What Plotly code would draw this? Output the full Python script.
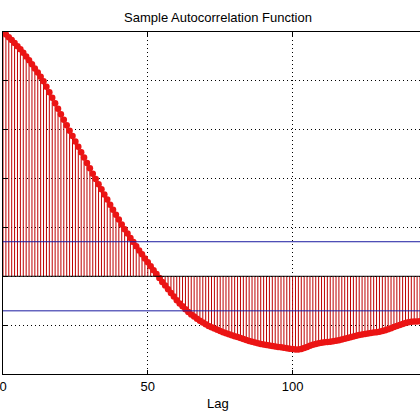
import plotly.graph_objects as go

# sample autocorrelation, lags 0..144
lags = list(range(145))
acf = [
    1.000, 0.990, 0.979, 0.967, 0.955, 0.942, 0.929, 0.915, 0.900, 0.884,
    0.868, 0.851, 0.834, 0.817, 0.798, 0.776, 0.753, 0.731, 0.708, 0.686,
    0.663, 0.641, 0.618, 0.596, 0.574, 0.552, 0.530, 0.508, 0.486, 0.464,
    0.442, 0.420, 0.398, 0.377, 0.356, 0.335, 0.314, 0.293, 0.272, 0.252,
    0.232, 0.212, 0.193, 0.175, 0.157, 0.140, 0.123, 0.106, 0.090, 0.073,
    0.057, 0.041, 0.025, 0.009, -0.007, -0.023, -0.038, -0.053, -0.068, -0.083,
    -0.098, -0.111, -0.123, -0.135, -0.146, -0.156, -0.165, -0.174, -0.182, -0.189,
    -0.196, -0.203, -0.209, -0.214, -0.219, -0.224, -0.229, -0.233, -0.237, -0.241,
    -0.245, -0.249, -0.253, -0.257, -0.261, -0.265, -0.268, -0.271, -0.274, -0.277,
    -0.279, -0.281, -0.283, -0.285, -0.287, -0.289, -0.291, -0.293, -0.295, -0.297,
    -0.298, -0.300, -0.300, -0.298, -0.294, -0.289, -0.284, -0.280, -0.277, -0.274,
    -0.272, -0.270, -0.269, -0.268, -0.266, -0.264, -0.262, -0.259, -0.256, -0.253,
    -0.250, -0.246, -0.243, -0.240, -0.238, -0.236, -0.234, -0.232, -0.230, -0.229,
    -0.227, -0.224, -0.221, -0.217, -0.213, -0.208, -0.203, -0.199, -0.195, -0.191,
    -0.188, -0.186, -0.185, -0.185, -0.184,
]
bound = 0.1414  # approx 95% confidence bound
x_ticks = [0, 50, 100]
y_ticks = [-0.4, -0.2, 0, 0.2, 0.4, 0.6, 0.8, 1.0]

# stems: one trace, segments split by None
stem_x, stem_y = [], []
for lag, val in zip(lags, acf):
    stem_x += [lag, lag, None]
    stem_y += [0, val, None]

fig = go.Figure()
fig.add_trace(go.Scatter(x=stem_x, y=stem_y, mode="lines",
                         line=dict(color="rgb(190,0,0)", width=1),
                         hoverinfo="skip"))
fig.add_trace(go.Scatter(x=lags, y=acf, mode="markers",
                         marker=dict(color="rgb(235,20,20)", size=6.5,
                                     line=dict(width=0))))
for b in (bound, -bound):
    fig.add_trace(go.Scatter(x=[lags[0], lags[-1]], y=[b, b], mode="lines",
                             line=dict(color="#1a1aa0", width=1)))
fig.add_trace(go.Scatter(x=[lags[0], lags[-1]], y=[0, 0], mode="lines",
                         line=dict(color="black", width=1)))

fig.update_layout(
    template="none",
    width=420, height=420,
    margin=dict(l=3, r=0, t=32, b=46),
    paper_bgcolor="white", plot_bgcolor="white",
    showlegend=False,
    font=dict(family="Liberation Sans, Arial, sans-serif", size=12, color="black"),
    title=dict(text="Sample Autocorrelation Function", xref="container",
               x=218 / 420, xanchor="center", yref="container",
               y=1 - 17 / 420, yanchor="middle", font=dict(size=13)),
    annotations=[dict(text="Lag", xref="paper", yref="paper",
                      x=(218 - 3) / 417, y=-29 / 342, xanchor="center",
                      yanchor="middle", showarrow=False, font=dict(size=13))],
)
fig.update_xaxes(range=[0, 144], tickvals=x_ticks, ticks="inside", ticklen=4,
                 tickcolor="black", showline=True, linecolor="black",
                 linewidth=1, mirror="ticks", showgrid=True,
                 gridcolor="black", gridwidth=1, griddash="1px,3px",
                 zeroline=False, automargin=False, ticklabeloverflow="allow",
                 tickfont=dict(size=13))
fig.update_yaxes(range=[-0.4, 1.0], tickvals=y_ticks, ticks="inside", ticklen=4,
                 tickcolor="black", showline=True, linecolor="black",
                 linewidth=1, showticklabels=False, showgrid=True,
                 gridcolor="black", gridwidth=1, griddash="1px,3px",
                 zeroline=False, automargin=False)

# drop the page's default body margin so the figure sits at the corner
fig.write_html("out.html", config={"displayModeBar": False},
               post_script="document.body.style.margin='0';")
